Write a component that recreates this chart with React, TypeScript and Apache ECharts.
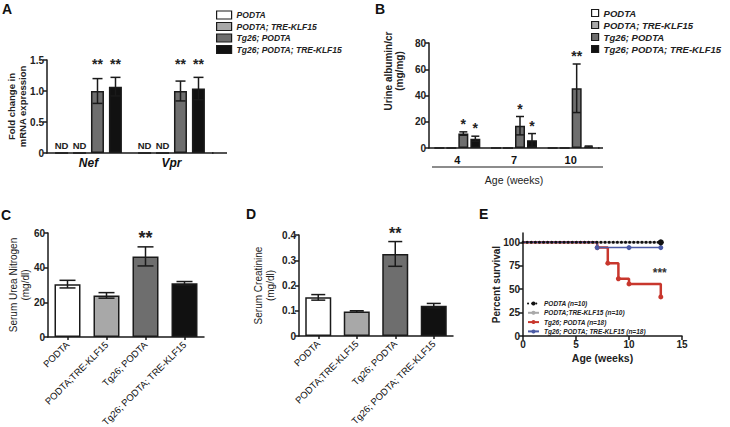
import React, { useEffect, useRef } from 'react';
import * as echarts from 'echarts';

const FONT = '"Liberation Sans", Arial, Helvetica, sans-serif';
const AX = '#1a1a1a';

// shared groups
const groupNames = ['PODTA', 'PODTA; TRE-KLF15', 'Tg26; PODTA', 'Tg26; PODTA; TRE-KLF15'];
const groupColors = ['#ffffff', '#a8a8a8', '#6e6e6e', '#111111'];

// Panel A
const genesA = ['Nef', 'Vpr'];
const podtaA = [0, 0];
const podtaKlfA = [0, 0];
const tg26A = [1.0, 1.0];
const tg26KlfA = [1.07, 1.04];
const podtaErrA = [0, 0];
const podtaKlfErrA = [0, 0];
const tg26ErrA = [0.2, 0.16];
const tg26KlfErrA = [0.15, 0.18];
const starsPodtaA = ['', ''];
const starsPodtaKlfA = ['', ''];
const starsTg26A = ['**', '**'];
const starsTg26KlfA = ['**', '**'];

// Panel B
const weeksB = ['4', '7', '10'];
const podtaB = [0, 0, 0];
const podtaKlfB = [0, 0, 0];
const tg26B = [11, 17, 45.5];
const tg26KlfB = [7, 6, 1];
const podtaErrB = [0, 0, 0];
const podtaKlfErrB = [0, 0, 0];
const tg26ErrB = [1.3, 7, 18.5];
const tg26KlfErrB = [2, 5, 0.5];
const starsPodtaB = ['', '', ''];
const starsPodtaKlfB = ['', '', ''];
const starsTg26B = ['*', '*', '**'];
const starsTg26KlfB = ['*', '*', ''];

// Panel C / D
const groupsCD = ['PODTA', 'PODTA;TRE-KLF15', 'Tg26; PODTA', 'Tg26; PODTA; TRE-KLF15'];
const bunMean = [30.5, 24, 46.5, 31];
const bunErr = [2.2, 1.6, 5.5, 1.0];
const bunStars = ['', '', '**', ''];
const creatMean = [0.153, 0.097, 0.325, 0.12];
const creatErr = [0.011, 0.003, 0.049, 0.009];
const creatStars = ['', '', '**', ''];

// Panel E (Kaplan-Meier)
const survNames = ['PODTA (n=10)', 'PODTA;TRE-KLF15 (n=10)', 'Tg26; PODTA (n=18)', 'Tg26; PODTA; TRE-KLF15 (n=18)'];
const weeksPodta = [0, 13];
const survPodta = [100, 100];
const weeksPodtaKlf = [0, 13];
const survPodtaKlf = [100, 100];
const weeksTg26 = [0, 7, 8, 9, 10, 13];
const survTg26 = [100, 94.4, 77.8, 61.1, 55.6, 41.7];
const weeksTg26Klf = [0, 7, 10, 13];
const survTg26Klf = [100, 94.4, 94.4, 94.4];
const starE = { week: 12.9, pct: 67, text: '***' };

type ErrItem = { cat: number; mean: number; err: number; slot: number; star: string };

function buildItems(means: number[][], errs: number[][], stars: string[][]): ErrItem[] {
  const out: ErrItem[] = [];
  means.forEach((arr, slot) =>
    arr.forEach((m, cat) => out.push({ cat, mean: m, err: errs[slot][cat], slot, star: stars[slot][cat] }))
  );
  return out;
}

function errorSeries(xi: number, items: ErrItem[], cfg: any) {
  return {
    type: 'custom',
    name: 'err' + xi,
    xAxisIndex: xi,
    yAxisIndex: xi,
    z: 5,
    clip: false,
    data: items.map((it) => [it.cat, it.mean + it.err]),
    renderItem: (params: any, api: any) => {
      const it = items[params.dataIndex];
      const base = api.coord([it.cat, it.mean]);
      const x = base[0] + (it.slot - (cfg.nSlots - 1) / 2) * cfg.spacing;
      const top = api.coord([it.cat, it.mean + it.err])[1];
      const bot = api.coord([it.cat, Math.max(0, it.mean - it.err)])[1];
      const children: any[] = [];
      const st = { stroke: '#1a1a1a', lineWidth: 1.5 };
      if (it.err > 0) {
        children.push({ type: 'line', shape: { x1: x, y1: top, x2: x, y2: bot }, style: st });
        children.push({ type: 'line', shape: { x1: x - cfg.cap / 2, y1: top, x2: x + cfg.cap / 2, y2: top }, style: st });
        children.push({ type: 'line', shape: { x1: x - cfg.cap / 2, y1: bot, x2: x + cfg.cap / 2, y2: bot }, style: st });
      }
      if (it.star) {
        const anchor = cfg.starLevel != null ? api.coord([it.cat, cfg.starLevel])[1] : top;
        children.push({
          type: 'text',
          style: {
            text: it.star, x, y: anchor - cfg.starGap, align: 'center', verticalAlign: 'bottom',
            fontSize: cfg.starSize, fontWeight: 'bold', fontFamily: FONT, fill: '#222',
          },
        });
      }
      return { type: 'group', children };
    },
  };
}

function yAxisBase(gridIndex: number, min: number, max: number, interval: number, fmt?: any) {
  return {
    type: 'value', gridIndex, min, max, interval,
    splitLine: { show: false },
    axisLine: { show: true, lineStyle: { color: AX, width: 1.5 } },
    axisTick: { show: true, length: 4, lineStyle: { color: AX, width: 1.5 } },
    axisLabel: { fontFamily: FONT, fontSize: 10, fontWeight: 'bold', color: '#222', margin: 3, formatter: fmt },
    nameMoveOverlap: false,
  };
}

const decFmt = (v: number) => (v === 0 ? '0' : v.toFixed(1));

function groupedBars(xi: number, values: number[][], barWidth: number, barGap: string, ndLabel: boolean) {
  return values.map((vals, k) => ({
    type: 'bar',
    name: groupNames[k],
    xAxisIndex: xi,
    yAxisIndex: xi,
    barWidth,
    barGap,
    data: vals,
    itemStyle: { color: groupColors[k], borderColor: '#1a1a1a', borderWidth: 1.5 },
    label: ndLabel && k < 2
      ? { show: true, position: 'top', distance: 2, formatter: 'ND', fontFamily: FONT, fontSize: 9.5, fontWeight: 'bold', color: '#222' }
      : { show: false },
  }));
}

function singleBars(xi: number, vals: number[]) {
  return {
    type: 'bar', name: 'bars' + xi, xAxisIndex: xi, yAxisIndex: xi, barWidth: 26,
    data: vals.map((v, i) => ({ value: v, itemStyle: { color: groupColors[i] } })),
    itemStyle: { borderColor: '#1a1a1a', borderWidth: 1.5 },
  };
}

function kmSeries(name: string, xs: number[], ys: number[], color: string, width: number, extra: any = {}) {
  return {
    type: 'line', name, xAxisIndex: 4, yAxisIndex: 4, step: 'end',
    symbol: 'circle', symbolSize: 5,
    data: xs.map((x, i) => ({ value: [x, ys[i]], symbol: i === 0 ? 'none' : 'circle' })),
    lineStyle: { color, width },
    itemStyle: { color },
    ...extra,
  };
}

const legendText = { fontFamily: FONT, fontStyle: 'italic', fontWeight: 'bold', color: '#222' };

export default function App() {
  const ref = useRef<HTMLDivElement>(null);
  useEffect(() => {
    if (!ref.current) return;
    const chart = echarts.init(ref.current, null, { renderer: 'svg' });
    const itemsA = buildItems(
      [podtaA, podtaKlfA, tg26A, tg26KlfA],
      [podtaErrA, podtaKlfErrA, tg26ErrA, tg26KlfErrA],
      [starsPodtaA, starsPodtaKlfA, starsTg26A, starsTg26KlfA]
    );
    const itemsB = buildItems(
      [podtaB, podtaKlfB, tg26B, tg26KlfB],
      [podtaErrB, podtaKlfErrB, tg26ErrB, tg26KlfErrB],
      [starsPodtaB, starsPodtaKlfB, starsTg26B, starsTg26KlfB]
    );
    const itemsC = buildItems([bunMean], [bunErr], [bunStars]);
    const itemsD = buildItems([creatMean], [creatErr], [creatStars]);

    const catLabelRot = {
      rotate: 45, interval: 0, fontFamily: FONT, fontSize: 9.5, color: '#111', margin: 6,
    };

    const option: any = {
      animation: false,
      backgroundColor: '#ffffff',
      textStyle: { fontFamily: FONT },
      grid: [
        { left: 47, top: 60, width: 166, height: 93, outerBoundsMode: 'none' },
        { left: 429, top: 43, width: 170, height: 105, outerBoundsMode: 'none' },
        { left: 48, top: 233, width: 156, height: 104, outerBoundsMode: 'none' },
        { left: 299, top: 235, width: 154, height: 101, outerBoundsMode: 'none' },
        { left: 523, top: 233, width: 159, height: 103, outerBoundsMode: 'none' },
      ],
      xAxis: [
        {
          type: 'category', gridIndex: 0, data: genesA,
          axisLine: { lineStyle: { color: AX, width: 1.5 } }, axisTick: { show: false },
          axisLabel: { fontFamily: FONT, fontSize: 12, fontWeight: 'bold', fontStyle: 'italic', color: '#111', margin: 4 },
        },
        {
          type: 'category', gridIndex: 1, data: weeksB,
          axisLine: { lineStyle: { color: AX, width: 1.5 } }, axisTick: { show: false },
          axisLabel: { fontFamily: FONT, fontSize: 11, fontWeight: 'bold', color: '#111', margin: 6 },
          name: 'Age (weeks)', nameLocation: 'middle', nameGap: 26, nameMoveOverlap: false,
          nameTextStyle: { fontFamily: FONT, fontSize: 10.5, color: '#222' },
        },
        {
          type: 'category', gridIndex: 2, data: groupsCD,
          axisLine: { lineStyle: { color: AX, width: 1.5 } },
          axisTick: { show: true, alignWithLabel: true, length: 3, lineStyle: { color: AX, width: 1.5 } },
          axisLabel: catLabelRot,
        },
        {
          type: 'category', gridIndex: 3, data: groupsCD,
          axisLine: { lineStyle: { color: AX, width: 1.5 } },
          axisTick: { show: true, alignWithLabel: true, length: 3, lineStyle: { color: AX, width: 1.5 } },
          axisLabel: catLabelRot,
        },
        {
          type: 'value', gridIndex: 4, min: 0, max: 15, interval: 5,
          splitLine: { show: false },
          axisLine: { lineStyle: { color: AX, width: 1.5 } },
          axisTick: { show: true, length: 4, lineStyle: { color: AX, width: 1.5 } },
          axisLabel: { fontFamily: FONT, fontSize: 10, fontWeight: 'bold', color: '#222', margin: 3 },
          name: 'Age (weeks)', nameLocation: 'middle', nameGap: 16, nameMoveOverlap: false,
          nameTextStyle: { fontFamily: FONT, fontSize: 10.5, fontWeight: 'bold', color: '#222' },
        },
      ],
      yAxis: [
        {
          ...yAxisBase(0, 0, 1.5, 0.5, decFmt),
          name: 'Fold change in\nmRNA expression', nameLocation: 'middle', nameGap: 19,
          nameTextStyle: { fontFamily: FONT, fontSize: 9.5, fontWeight: 'bold', color: '#222', lineHeight: 11 },
        },
        { ...yAxisBase(1, 0, 80, 20) },
        {
          ...yAxisBase(2, 0, 60, 20),
          name: 'Serum Urea Nitrogen\n(mg/dl)', nameLocation: 'middle', nameGap: 17,
          nameTextStyle: { fontFamily: FONT, fontSize: 10, color: '#222', lineHeight: 12 },
        },
        {
          ...yAxisBase(3, 0, 0.4, 0.1, decFmt),
          name: 'Serum Creatinine\n(mg/dl)', nameLocation: 'middle', nameGap: 23,
          nameTextStyle: { fontFamily: FONT, fontSize: 10, color: '#222', lineHeight: 12 },
        },
        {
          ...yAxisBase(4, 0, 110, 25),
          axisLabel: {
            fontFamily: FONT, fontSize: 10, fontWeight: 'bold', color: '#222', margin: 3,
            customValues: [0, 25, 50, 75, 100],
          },
          axisTick: { show: true, length: 4, lineStyle: { color: AX, width: 1.5 }, customValues: [0, 25, 50, 75, 100] },
          name: 'Percent survival', nameLocation: 'middle', nameGap: 22,
          nameTextStyle: { fontFamily: FONT, fontSize: 10, fontWeight: 'bold', color: '#222' },
        },
      ],
      legend: [
        {
          left: 216, top: 10, orient: 'vertical', icon: 'rect', itemWidth: 15, itemHeight: 8, itemGap: 1.5,
          padding: 0, selectedMode: false, data: groupNames,
          itemStyle: { borderColor: '#1a1a1a', borderWidth: 1.2 },
          textStyle: { ...legendText, fontSize: 8.5, lineHeight: 10 },
        },
        {
          left: 591, top: 8, orient: 'vertical', icon: 'rect', itemWidth: 7, itemHeight: 7, itemGap: 2,
          padding: 0, selectedMode: false, data: groupNames,
          itemStyle: { borderColor: '#1a1a1a', borderWidth: 1.2 },
          textStyle: { ...legendText, fontSize: 9.5, lineHeight: 10 },
        },
        {
          left: 527, top: 300, orient: 'vertical', itemWidth: 11, itemHeight: 5, itemGap: 2.3,
          padding: 0, selectedMode: false, data: survNames,
          textStyle: { ...legendText, fontSize: 6.5, lineHeight: 6 },
        },
      ],
      graphic: [
        { type: 'text', x: 2, y: 2, style: { text: 'A', fontSize: 14, fontWeight: 'bold', fontFamily: FONT, fill: '#111' } },
        { type: 'text', x: 375, y: 2, style: { text: 'B', fontSize: 14, fontWeight: 'bold', fontFamily: FONT, fill: '#111' } },
        { type: 'text', x: 1, y: 208, style: { text: 'C', fontSize: 14, fontWeight: 'bold', fontFamily: FONT, fill: '#111' } },
        { type: 'text', x: 246, y: 207, style: { text: 'D', fontSize: 14, fontWeight: 'bold', fontFamily: FONT, fill: '#111' } },
        { type: 'text', x: 479, y: 207, style: { text: 'E', fontSize: 14, fontWeight: 'bold', fontFamily: FONT, fill: '#111' } },
        { type: 'line', shape: { x1: 212, y1: 153, x2: 227, y2: 153 }, style: { stroke: AX, lineWidth: 1.5 } },
        { type: 'line', shape: { x1: 598, y1: 148, x2: 603, y2: 148 }, style: { stroke: AX, lineWidth: 1.5 } },
        { type: 'line', shape: { x1: 432, y1: 167, x2: 603, y2: 167 }, style: { stroke: AX, lineWidth: 1.2 } },
        {
          type: 'text', x: 394, y: 71, rotation: Math.PI / 2,
          style: {
            text: 'Urine albumin/cr\n(mg/mg)', align: 'center', verticalAlign: 'middle',
            fontSize: 10, fontWeight: 'bold', fontFamily: FONT, fill: '#222', lineHeight: 11,
          },
        },
      ],
      series: [
        ...groupedBars(0, [podtaA, podtaKlfA, tg26A, tg26KlfA], 13, '38%', true),
        ...groupedBars(1, [podtaB, podtaKlfB, tg26B, tg26KlfB], 10, '20%', false),
        singleBars(2, bunMean),
        singleBars(3, creatMean),
        errorSeries(0, itemsA, { nSlots: 4, spacing: 18, cap: 10, starSize: 14, starGap: -10.5, starLevel: 1.5 }),
        errorSeries(1, itemsB, { nSlots: 4, spacing: 12, cap: 8, starSize: 14, starGap: 1 }),
        errorSeries(2, itemsC, { nSlots: 1, spacing: 0, cap: 16, starSize: 18, starGap: 0 }),
        errorSeries(3, itemsD, { nSlots: 1, spacing: 0, cap: 14, starSize: 16, starGap: 0 }),
        kmSeries(survNames[1], weeksPodtaKlf, survPodtaKlf, '#a9a9a9', 2),
        kmSeries(survNames[2], weeksTg26, survTg26, '#c8372d', 2.5, {
          markPoint: {
            symbol: 'circle', symbolSize: 1, itemStyle: { color: 'rgba(0,0,0,0)' },
            label: { show: true, position: 'inside', formatter: starE.text, fontFamily: FONT, fontSize: 12, fontWeight: 'bold', color: '#333' },
            data: [{ coord: [starE.week, starE.pct] }],
          },
        }),
        kmSeries(survNames[3], weeksTg26Klf, survTg26Klf, '#4b5ba6', 1.5),
        kmSeries(survNames[0], weeksPodta, survPodta, '#111111', 3, {
          symbolSize: 6,
          lineStyle: { color: '#111111', width: 3, type: [0.1, 4], cap: 'round' },
        }),
      ],
    };
    chart.setOption(option);
    return () => chart.dispose();
  }, []);
  return (
    <div
      ref={ref}
      style={{ position: 'fixed', left: 0, top: 0, width: 730, height: 427, background: '#fff' }}
    />
  );
}
